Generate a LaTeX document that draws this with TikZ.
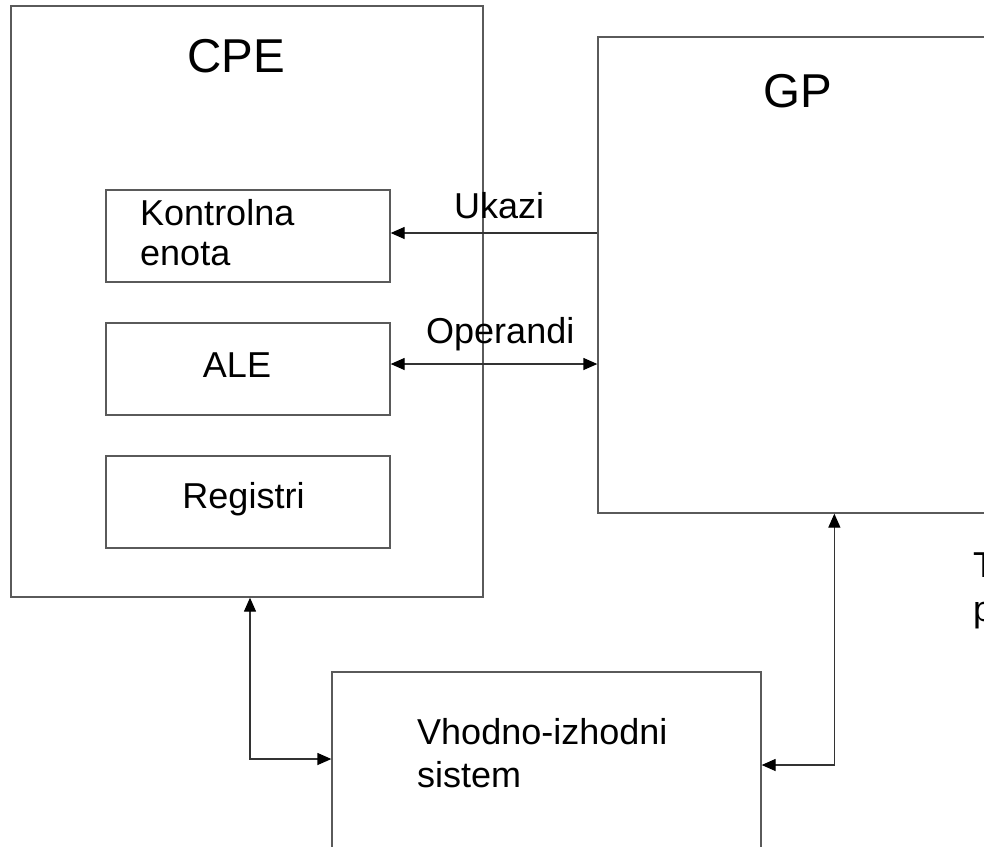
\documentclass[tikz,border=0pt]{standalone}
\usepackage{fontspec}
\setmainfont{Liberation Sans}
\usetikzlibrary{arrows.meta}
\definecolor{boxline}{HTML}{5A5A5A}
\definecolor{arrline}{HTML}{333333}
\tikzset{
  blk/.style={draw=boxline, line width=1.3pt, inner sep=0pt, minimum width=#1},
  lbl/.style={inner sep=0pt, font=\fontsize{36}{41}\selectfont, text=black},
  big/.style={inner sep=0pt, font=\fontsize{47.5}{55}\selectfont, text=black},
  conn/.style={draw=arrline, line width=1.3pt},
  tip/.tip={Triangle[length=14pt,width=12pt,fill=black,color=black]},
  hd/.style={-tip},
  hh/.style={tip-tip},
}
\begin{document}
\begin{tikzpicture}[x=1pt,y=-1pt]
\useasboundingbox (0,0) rectangle (984,846);
\fill[white] (0,0) rectangle (984,846);
\clip (0,0) rectangle (984,846);

% boxes
\node[blk=472pt, minimum height=591pt] (CPE) at (247,301.5) {};
\node[blk=502pt, minimum height=476pt] (GP) at (849,275) {};
\node[blk=284pt, minimum height=92pt] (Kon) at (248,236) {};
\node[blk=284pt, minimum height=92pt] (ALE) at (248,369) {};
\node[blk=284pt, minimum height=92pt] (Reg) at (248,502) {};
\node[blk=429pt, minimum height=228pt] (Vh) at (546.5,786) {};

% texts
\node[big, anchor=base] (tCPE) at (236,72) {CPE};
\node[big, anchor=base] (tGP) at (798,107) {GP};
\node[lbl, anchor=base west] (tKon1) at (140,225) {Kontrolna};
\node[lbl, anchor=base west] (tKon2) at (140,265) {enota};
\node[lbl, anchor=base] (tALE) at (237,377) {ALE};
\node[lbl, anchor=base] (tReg) at (243.5,508) {Registri};
\node[lbl, anchor=base west] (tUk) at (454,218) {Ukazi};
\node[lbl, anchor=base west] (tOp) at (426,343) {Operandi};
\node[lbl, anchor=base west] (tVh1) at (417,744) {Vhodno-izhodni};
\node[lbl, anchor=base west] (tVh2) at (417,787) {sistem};
\node[lbl, anchor=base west] (tT) at (973,577) {T};
\node[lbl, anchor=base west] (tP) at (973,621) {p};

% connector points
\coordinate (u) at ([yshift=3pt]Kon.east);
\coordinate (o) at ([yshift=5pt]ALE.east);
\coordinate (c1) at ([xshift=3pt]CPE.south);
\coordinate (c2) at ([yshift=27pt]Vh.west);
\coordinate (g1) at ([xshift=237pt]GP.south west);
\coordinate (g2) at ([yshift=21pt]Vh.east);

% connectors
\draw[conn, hd] (u -| GP.west) -- (u);
\draw[conn, hh] (o) -- (o -| GP.west);
\draw[conn, hh] (c1) |- (c2);
\draw[conn, hh] (g1) |- (g2);
\end{tikzpicture}
\end{document}
